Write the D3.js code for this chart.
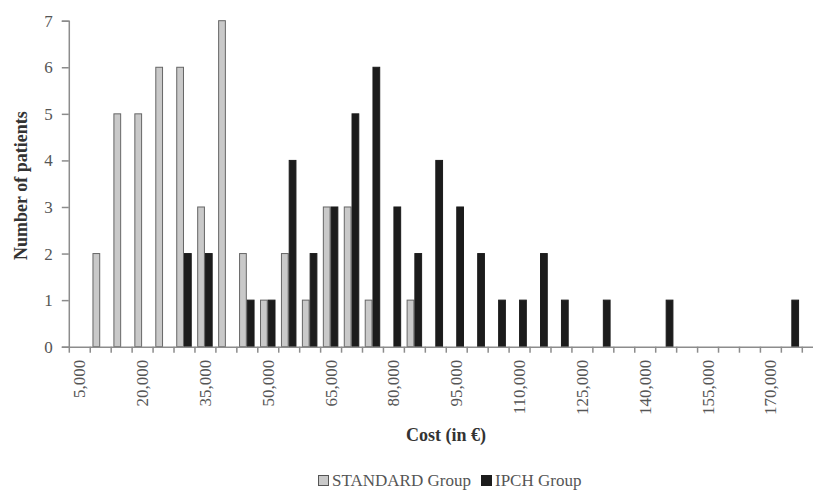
<!DOCTYPE html>
<html>
<head>
<meta charset="utf-8">
<script src="https://cdn.jsdelivr.net/npm/d3@7"></script>
<style>
  html, body { margin: 0; padding: 0; background: #fff; }
  svg { display: block; font-family: "Liberation Serif", "Times New Roman", serif; }
</style>
</head>
<body>
<svg id="chart" width="816" height="491"></svg>
<script>
const categories = [5000,10000,15000,20000,25000,30000,35000,40000,45000,50000,
  55000,60000,65000,70000,75000,80000,85000,90000,95000,100000,
  105000,110000,115000,120000,125000,130000,135000,140000,145000,150000,
  155000,160000,165000,170000,175000];
const standardGroup = [0,2,5,5,6,6,3,7,2,1,2,1,3,3,1,0,1,0,0,0,0,0,0,0,0,0,0,0,0,0,0,0,0,0,0];
const ipchGroup     = [0,0,0,0,0,2,2,0,1,1,4,2,3,5,6,3,2,4,3,2,1,1,2,1,0,1,0,0,1,0,0,0,0,0,1];
const yTicks = [0,1,2,3,4,5,6,7];
const xLabelEvery = 3;
const seriesNames = ["STANDARD Group", "IPCH Group"];
const seriesColors = ["#c9c9c9", "#1c1c1c"];

const svg = d3.select("#chart");
const x0 = 68.8, x1 = 801.8, yBottom = 346.7, yTop = 20.7;

const x = d3.scaleBand().domain(categories).range([x0, x1]).paddingInner(0.26).paddingOuter(0.13);
const xSub = d3.scaleBand().domain([0, 1]).range([0, x.bandwidth()]);
const xEdges = d3.scaleLinear().domain([0, categories.length]).range([x0, x1]);
const y = d3.scaleLinear().domain([0, 7]).range([yBottom, yTop]);

const axisColor = "#8c8c8c";
const textColor = "#555";

// Bars
const data = categories.map((c, i) => ({c, vals: [standardGroup[i], ipchGroup[i]]}));
const g = svg.append("g");
data.forEach(d => {
  d.vals.forEach((v, s) => {
    if (v <= 0) return;
    g.append("rect")
      .attr("x", x(d.c) + xSub(s) + 0.5)
      .attr("y", y(v))
      .attr("width", xSub.bandwidth() - 1)
      .attr("height", y(0) - y(v))
      .attr("fill", seriesColors[s])
      .attr("stroke", s === 0 ? "#666" : "#1c1c1c")
      .attr("stroke-width", 1);
  });
});

// Y axis
const yAxis = svg.append("g")
  .attr("transform", `translate(${x0},0)`)
  .call(d3.axisLeft(y).tickValues(yTicks).tickSize(7).tickPadding(9).tickFormat(d3.format("d")));
yAxis.selectAll("path, line").attr("stroke", axisColor).attr("stroke-width", 1.5);
yAxis.selectAll("text").attr("fill", textColor).style("font-size", "17px")
  .style("font-family", "'Liberation Serif', serif");

// X axis line + boundary ticks
const xAxis = svg.append("g")
  .attr("transform", `translate(0,${yBottom})`)
  .call(d3.axisBottom(xEdges).tickValues(d3.range(0, categories.length + 1)).tickSize(6).tickSizeOuter(0).tickFormat(""));
xAxis.select("path.domain").attr("d", `M${x0},0.5H813`);
xAxis.selectAll("path, line").attr("stroke", axisColor).attr("stroke-width", 1.5);

// X tick labels
const fmt = d3.format(",");
svg.append("g").selectAll("text")
  .data(categories.filter((c, i) => i % xLabelEvery === 0))
  .join("text")
  .attr("transform", d => `translate(${x(d) + x.bandwidth() / 2},${yBottom + 13}) rotate(-90)`)
  .attr("text-anchor", "end")
  .attr("dy", "0.35em")
  .attr("fill", textColor)
  .style("font-size", "17px")
  .text(d => fmt(d));

// Axis titles
svg.append("text")
  .attr("transform", `translate(27,${(yTop + yBottom) / 2 + 2}) rotate(-90)`)
  .attr("text-anchor", "middle")
  .attr("fill", "#333")
  .style("font-size", "18px").style("font-weight", "bold")
  .text("Number of patients");

svg.append("text")
  .attr("x", 446).attr("y", 441)
  .attr("text-anchor", "middle")
  .attr("fill", "#333")
  .style("font-size", "18px").style("font-weight", "bold")
  .text("Cost (in €)");

// Legend
const legend = svg.append("g");
const legendItems = [{x: 318, name: seriesNames[0], color: seriesColors[0], stroke: "#555"},
                     {x: 481, name: seriesNames[1], color: seriesColors[1], stroke: "#1c1c1c"}];
legendItems.forEach(it => {
  legend.append("rect").attr("x", it.x + 0.5).attr("y", 475.5).attr("width", 10).attr("height", 10)
    .attr("fill", it.color).attr("stroke", it.stroke);
  legend.append("text").attr("x", it.x + 14).attr("y", 486)
    .attr("fill", textColor).style("font-size", "17px").text(it.name);
});
</script>
</body>
</html>
